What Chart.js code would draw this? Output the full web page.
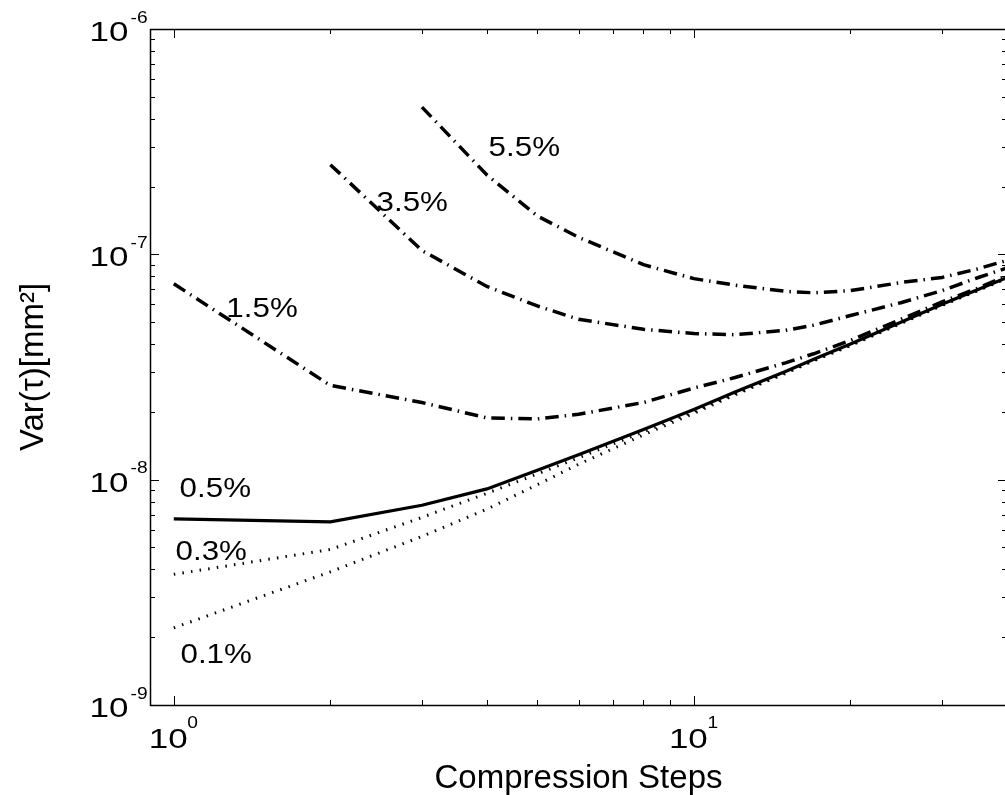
<!DOCTYPE html>
<html>
<head>
<meta charset="utf-8">
<script src="https://cdn.jsdelivr.net/npm/chart.js@4.4.1/dist/chart.umd.min.js"></script>
<style>
  html, body { margin: 0; padding: 0; background: #fff; overflow: hidden; }
  #wrap { position: relative; width: 1012px; height: 795px; }
</style>
</head>
<body>
<div id="wrap"><canvas id="c"></canvas></div>
<script>
// ---------------- data ----------------
const steps   = [1, 2, 3, 4, 5, 6, 8, 10, 12, 15, 17, 20, 25, 30, 35, 40];
const var01   = [2.2e-9, 3.9e-9, 5.6e-9, 7.4e-9, 9.5e-9, 1.17e-8, 1.58e-8, 1.97e-8, 2.38e-8, 2.96e-8, 3.37e-8, 3.93e-8, 4.93e-8, 5.93e-8, 6.87e-8, 7.82e-8];
const var03   = [3.8e-9, 4.9e-9, 6.8e-9, 8.7e-9, 1.06e-8, 1.25e-8, 1.63e-8, 2.01e-8, 2.41e-8, 2.99e-8, 3.39e-8, 3.96e-8, 4.96e-8, 5.96e-8, 6.9e-8, 7.85e-8];
const var05   = [6.7e-9, 6.5e-9, 7.7e-9, 9.1e-9, 1.1e-8, 1.29e-8, 1.67e-8, 2.05e-8, 2.45e-8, 3.02e-8, 3.42e-8, 4.0e-8, 5.0e-8, 6.0e-8, 6.95e-8, 7.9e-8];
const var15   = [7.4e-8, 2.62e-8, 2.2e-8, 1.88e-8, 1.86e-8, 1.95e-8, 2.2e-8, 2.55e-8, 2.84e-8, 3.3e-8, 3.62e-8, 4.15e-8, 5.15e-8, 6.15e-8, 7.05e-8, 8.05e-8];
const var35   = [null, 2.5e-7, 1.04e-7, 7.2e-8, 5.9e-8, 5.15e-8, 4.65e-8, 4.45e-8, 4.4e-8, 4.6e-8, 4.85e-8, 5.35e-8, 6.1e-8, 6.9e-8, 7.85e-8, 8.7e-8];
const var55   = [null, null, 4.5e-7, 2.25e-7, 1.48e-7, 1.19e-7, 9.0e-8, 7.8e-8, 7.3e-8, 6.85e-8, 6.75e-8, 6.9e-8, 7.5e-8, 7.9e-8, 8.6e-8, 9.4e-8];

const xDecades = [1, 10];
const xMinor   = [2, 3, 4, 5, 6, 7, 8, 9, 20, 30, 40];
const xExp     = ['0', '1'];
const yDecades = [1e-9, 1e-8, 1e-7, 1e-6];
const yExp     = ['-9', '-8', '-7', '-6'];

// curve labels, anchored in data space
const curveLabels = [
  { text: '5.5%', x: 4.03,  y: 2.73e-7 },
  { text: '3.5%', x: 2.454, y: 1.553e-7 },
  { text: '1.5%', x: 1.262, y: 5.25e-8 },
  { text: '0.5%', x: 1.026, y: 8.4e-9 },
  { text: '0.3%', x: 1.0076, y: 4.41e-9 },
  { text: '0.1%', x: 1.030, y: 1.537e-9 }
];

// ---------------- helpers ----------------
const FAM = '"Liberation Sans", Arial, Helvetica, sans-serif';
function pts(vals) {
  const out = [];
  steps.forEach((s, i) => { if (vals[i] != null) out.push({ x: s, y: vals[i] }); });
  return out;
}
const DASHDOT = [13.5, 6, 1.5, 6];
const DOTTED = [1.5, 7.2];
function ds(vals, dash, width) {
  return {
    data: pts(vals), showLine: true, borderColor: '#000', backgroundColor: '#000',
    borderWidth: width, borderDash: dash, borderCapStyle: 'butt', borderJoinStyle: 'miter',
    pointRadius: 0, pointHoverRadius: 0, tension: 0, fill: false
  };
}

function txt(ctx, s, x, y, size, sx, align) {
  ctx.save();
  ctx.translate(x, y);
  ctx.scale(sx, 1);
  ctx.font = size + 'px ' + FAM;
  ctx.textAlign = align;
  ctx.textBaseline = 'alphabetic';
  ctx.fillStyle = '#000';
  ctx.fillText(s, 0, 0);
  ctx.restore();
}

const axesPlugin = {
  id: 'matlabAxes',
  afterDraw(chart) {
    const ctx = chart.ctx;
    const a = chart.chartArea;
    const xs = chart.scales.x, ys = chart.scales.y;
    ctx.save();
    ctx.strokeStyle = '#000';
    ctx.lineWidth = 1.5;
    ctx.strokeRect(a.left + 0.5, a.top + 0.5, a.right - a.left, a.bottom - a.top);
    ctx.lineWidth = 1;
    const MAJ = 9, MIN = 5;
    ctx.beginPath();
    const xt = (v, L) => {
      const p = Math.round(xs.getPixelForValue(v)) + 0.5;
      ctx.moveTo(p, a.bottom); ctx.lineTo(p, a.bottom - L);
      ctx.moveTo(p, a.top); ctx.lineTo(p, a.top + L);
    };
    const yt = (v, L) => {
      const p = Math.round(ys.getPixelForValue(v)) + 0.5;
      ctx.moveTo(a.left, p); ctx.lineTo(a.left + L, p);
      ctx.moveTo(a.right, p); ctx.lineTo(a.right - L, p);
    };
    xDecades.forEach(v => xt(v, MAJ));
    xMinor.forEach(v => xt(v, MIN));
    yDecades.forEach((d, i) => {
      yt(d, MAJ);
      if (i < yDecades.length - 1) for (let k = 2; k <= 9; k++) yt(d * k, MIN);
    });
    ctx.stroke();
    ctx.restore();

    // x tick labels: 10^n
    xDecades.forEach((v, i) => {
      const p = xs.getPixelForValue(v);
      txt(ctx, '10', p - 25, a.bottom + 43, 28, 1.25, 'left');
      txt(ctx, xExp[i], p + 13.5, a.bottom + 23, 16, 1.2, 'left');
    });
    // y tick labels
    yDecades.forEach((v, i) => {
      const p = ys.getPixelForValue(v);
      txt(ctx, '10', a.left - 21.5, p + 12, 28, 1.25, 'right');
      txt(ctx, yExp[i], a.left - 19.5, p - 6.5, 16, 1.2, 'left');
    });
    // curve labels
    curveLabels.forEach(l => {
      txt(ctx, l.text, xs.getPixelForValue(l.x), ys.getPixelForValue(l.y), 27, 1.16, 'left');
    });
  }
};

const chart = new Chart(document.getElementById('c'), {
  type: 'scatter',
  data: {
    datasets: [
      ds(var05, [], 3.2),
      ds(var03, DOTTED, 3),
      ds(var01, DOTTED, 3),
      ds(var15, DASHDOT, 3.5),
      ds(var35, DASHDOT, 3.5),
      ds(var55, DASHDOT, 3.5)
    ]
  },
  options: {
    responsive: true,
    maintainAspectRatio: false,
    animation: false,
    events: [],
    layout: { padding: { left: 0, top: 29, right: 5, bottom: 0 } },
    plugins: { legend: { display: false }, tooltip: { enabled: false } },
    scales: {
      x: {
        type: 'logarithmic', min: 0.9, max: 40,
        grid: { display: false, drawTicks: false },
        border: { display: false },
        ticks: { display: false },
        title: { display: true, text: 'Compression Steps', color: '#000',
                 font: { family: FAM, size: 33, lineHeight: 1 }, padding: { top: 0, bottom: 0 } },
        afterFit(s) { s.height = 90; }
      },
      y: {
        type: 'logarithmic', min: 1e-9, max: 1e-6,
        grid: { display: false, drawTicks: false },
        border: { display: false },
        ticks: { display: false },
        title: { display: true, text: 'Var(τ)[mm²]', color: '#000',
                 font: { family: FAM, size: 33, lineHeight: 1 }, padding: { top: 17, bottom: 0 } },
        afterFit(s) { s.width = 150; }
      }
    }
  },
  plugins: [axesPlugin]
});
</script>
</body>
</html>
